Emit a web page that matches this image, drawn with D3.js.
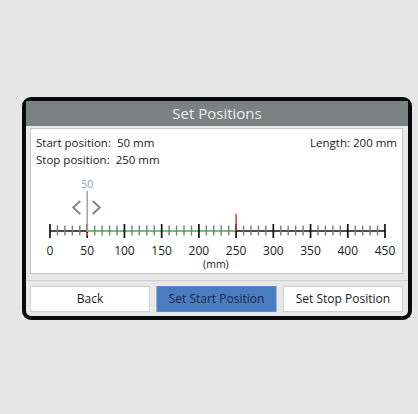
<!DOCTYPE html>
<html>
<head>
<meta charset="utf-8">
<script src="https://cdn.jsdelivr.net/npm/d3@7"></script>
<style>
body{margin:0;background:#e6e6e6;}
svg{display:block;font-family:"Open Sans",sans-serif;}
</style>
</head>
<body>
<svg id="chart" width="418" height="414"></svg>
<script>
(function(){

	var majorTicks = [0, 50, 100, 150, 200, 250, 300, 350, 400, 450];
	var minorStep = 10;
	var startPos = 50;
	var stopPos = 250;
	var unitLabel = "(mm)";
	var infoLines = ["Start position:  50 mm", "Stop position:  250 mm"];
	var lengthLabel = "Length: 200 mm";
	var buttons = ["Back", "Set Start Position", "Set Stop Position"];
	var activeButton = 1;

	var svg = d3.select("#chart");

	svg.append("rect").attr("width", 418).attr("height", 414).attr("fill", "#e6e6e6");

	// frame
	svg.append("rect")
		.attr("x", 24).attr("y", 99)
		.attr("width", 386).attr("height", 219)
		.attr("rx", 7)
		.attr("fill", "#e8e8e8")
		.attr("stroke", "#0a0a0a")
		.attr("stroke-width", 4);

	svg.append("rect")
		.attr("x", 26).attr("y", 101)
		.attr("width", 382).attr("height", 25)
		.attr("fill", "#7b8080");

	svg.append("text")
		.text("Set Positions")
		.attr("x", 217).attr("y", 119)
		.attr("text-anchor", "middle")
		.attr("fill", "#eeeeee")
		.style("font-size", "15px");

	// panel
	svg.append("rect")
		.attr("x", 30.5).attr("y", 128.5)
		.attr("width", 372).attr("height", 145)
		.attr("fill", "#ffffff")
		.attr("stroke", "#c8c8c8");

	svg.append("line")
		.attr("x1", 26).attr("x2", 408)
		.attr("y1", 280.5).attr("y2", 280.5)
		.attr("stroke", "#cfcfcf");

	svg.selectAll(".info")
		.data(infoLines)
		.enter().append("text")
			.attr("class", "info")
			.attr("x", 36)
			.attr("y", function(d, i){return 147 + i * 17;})
			.attr("fill", "#1a1a1a")
			.style("font-size", "11.5px")
			.style("white-space", "pre")
			.text(function(d){return d;});

	svg.append("text")
		.text(lengthLabel)
		.attr("x", 397).attr("y", 147)
		.attr("text-anchor", "end")
		.attr("fill", "#1a1a1a")
		.style("font-size", "11.5px");

	// ruler
	var x = d3.scaleLinear().domain([0, 450]).range([50, 385]);
	var axisY = 231;
	var g = svg.append("g");

	var minorTicks = d3.range(0, 451, minorStep).filter(function(v){return v % 50 !== 0;});

	g.append("line")
		.attr("x1", x(0)).attr("x2", x(startPos))
		.attr("y1", axisY).attr("y2", axisY)
		.attr("stroke", "#111").attr("stroke-width", 1.3);
	g.append("line")
		.attr("x1", x(startPos)).attr("x2", x(stopPos))
		.attr("y1", axisY).attr("y2", axisY)
		.attr("stroke", "#3cb043").attr("stroke-width", 1.6);
	g.append("line")
		.attr("x1", x(stopPos)).attr("x2", x(450))
		.attr("y1", axisY).attr("y2", axisY)
		.attr("stroke", "#111").attr("stroke-width", 1.3);

	g.selectAll(".minor")
		.data(minorTicks)
		.enter().append("line")
			.attr("class", "minor")
			.attr("x1", function(d){return x(d);})
			.attr("x2", function(d){return x(d);})
			.attr("y1", axisY - 5.5).attr("y2", axisY + 4.5)
			.attr("stroke", "#7a7a7a")
			.attr("stroke-width", 1.4);

	g.selectAll(".major")
		.data(majorTicks)
		.enter().append("line")
			.attr("class", "major")
			.attr("x1", function(d){return x(d);})
			.attr("x2", function(d){return x(d);})
			.attr("y1", axisY - 7).attr("y2", axisY + 7)
			.attr("stroke", "#111")
			.attr("stroke-width", 1.7);

	g.selectAll(".tlabel")
		.data(majorTicks)
		.enter().append("text")
			.attr("class", "tlabel")
			.attr("x", function(d){return x(d);})
			.attr("y", 255)
			.attr("text-anchor", "middle")
			.attr("fill", "#1a1a1a")
			.style("font-size", "12px")
			.text(function(d){return d;});

	g.append("text")
		.text(unitLabel)
		.attr("x", x(200) + 17).attr("y", 268)
		.attr("text-anchor", "middle")
		.attr("fill", "#1a1a1a")
		.style("font-size", "10.5px");

	// stop marker
	g.append("line")
		.attr("x1", x(stopPos)).attr("x2", x(stopPos))
		.attr("y1", 214).attr("y2", axisY)
		.attr("stroke", "#e8372f").attr("stroke-width", 1.5);

	// start marker (cursor)
	var cx = x(startPos);
	g.append("line")
		.attr("x1", cx).attr("x2", cx)
		.attr("y1", 191).attr("y2", axisY + 1)
		.attr("stroke", "#a0a0a0").attr("stroke-width", 1.5);
	g.append("rect")
		.attr("x", cx - 0.8).attr("y", axisY + 2)
		.attr("width", 1.6).attr("height", 2.5)
		.attr("fill", "#e8372f");
	g.append("text")
		.text(startPos)
		.attr("x", cx).attr("y", 188)
		.attr("text-anchor", "middle")
		.attr("fill", "#8f9fb0")
		.style("font-size", "10.5px");
	g.append("path")
		.attr("d", "M" + (cx - 7) + ",201 L" + (cx - 14) + ",207.5 L" + (cx - 7) + ",214")
		.attr("fill", "none").attr("stroke", "#7d8690").attr("stroke-width", 2);
	g.append("path")
		.attr("d", "M" + (cx + 5.5) + ",201 L" + (cx + 12.5) + ",207.5 L" + (cx + 5.5) + ",214")
		.attr("fill", "none").attr("stroke", "#7d8690").attr("stroke-width", 2);

	// buttons
	var bx = d3.scaleBand().domain(d3.range(buttons.length)).range([30, 403]).paddingInner(0.05);
	var btn = svg.selectAll(".btn")
		.data(buttons)
		.enter().append("g")
			.attr("class", "btn");
	btn.append("rect")
		.attr("x", function(d, i){return bx(i) + 0.5;})
		.attr("y", 286.5)
		.attr("width", bx.bandwidth() - 1)
		.attr("height", 25)
		.attr("fill", function(d, i){return i === activeButton ? "#4a7cc1" : "#ffffff";})
		.attr("stroke", function(d, i){return i === activeButton ? "#5d8ccb" : "#d0d0d0";});
	btn.append("text")
		.attr("x", function(d, i){return bx(i) + bx.bandwidth() / 2;})
		.attr("y", 303)
		.attr("text-anchor", "middle")
		.attr("fill", function(d, i){return i === activeButton ? "#1b2a45" : "#1a1a1a";})
		.style("font-size", "12px")
		.text(function(d){return d;});

})();
</script>
</body>
</html>
